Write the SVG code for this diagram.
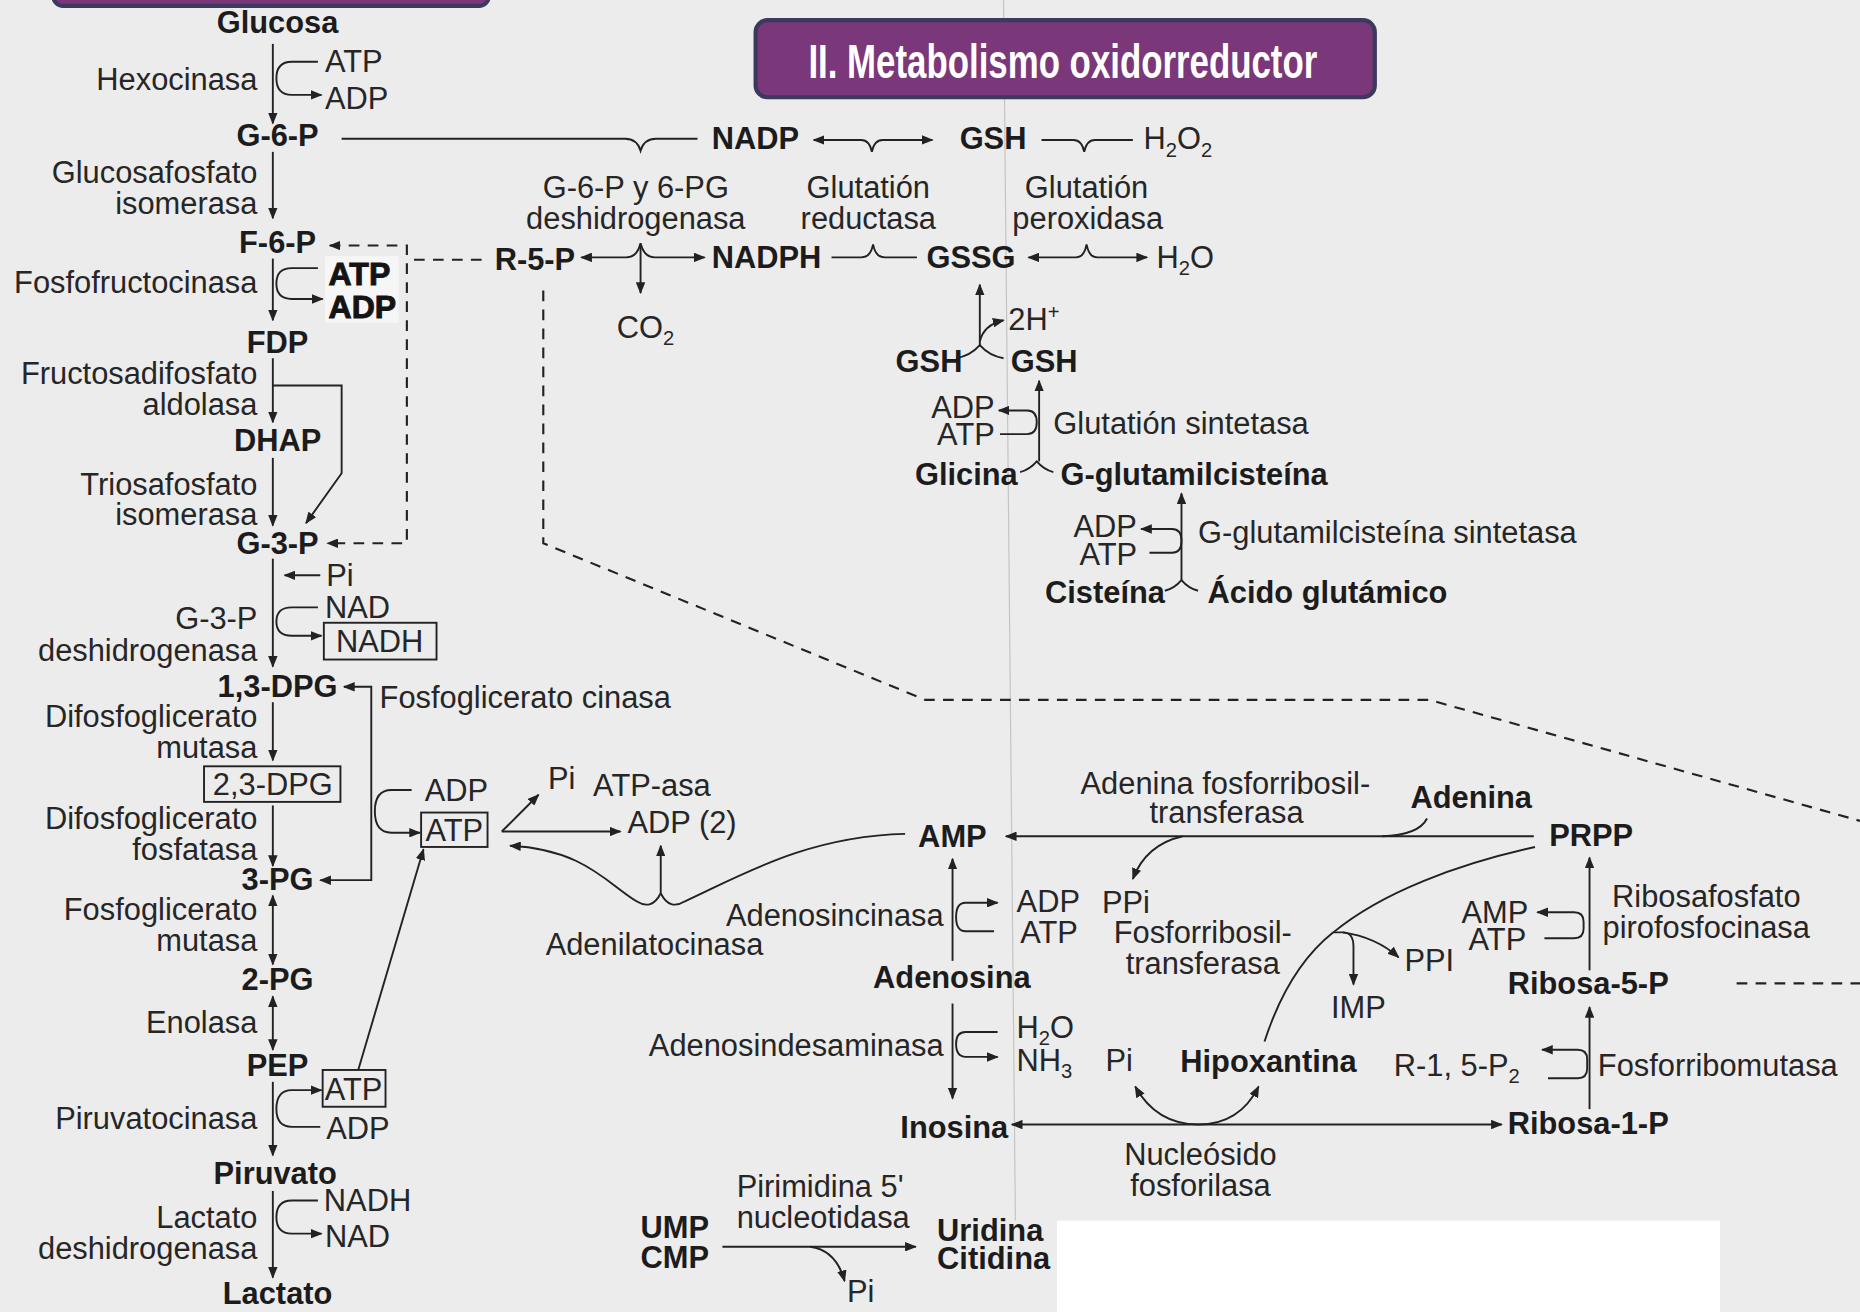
<svg xmlns="http://www.w3.org/2000/svg" width="1860" height="1312" viewBox="0 0 1860 1312">
<defs>
<style>
.r{font-family:'Liberation Sans',Arial,sans-serif;font-size:26px;fill:#262626}
.b{font-family:'Liberation Sans',Arial,sans-serif;font-size:26px;font-weight:bold;fill:#1c1c1c}
.h{font-family:'Liberation Sans',Arial,sans-serif;font-size:27px;font-weight:900;fill:#141414;stroke:#141414;stroke-width:0.8}
.e{text-anchor:end}
.m{text-anchor:middle}
.sub{font-size:17px}
.ln{fill:none;stroke:#222;stroke-width:1.6}
.ar{marker-end:url(#ah)}
.ab{marker-start:url(#ah);marker-end:url(#ah)}
.ds{fill:none;stroke:#222;stroke-width:1.8;stroke-dasharray:9 7}
.bx{fill:none;stroke:#222;stroke-width:1.6}
.ttl{font-family:'Liberation Sans Narrow','Liberation Sans',Arial,sans-serif;font-size:40px;font-weight:bold;fill:#ffffff}
.pb{fill:#7a3779;stroke:#3b3a5e;stroke-width:3.5}
</style>
<marker id="ah" viewBox="0 0 10 8" refX="9" refY="4" markerWidth="10" markerHeight="8" markerUnits="userSpaceOnUse" orient="auto-start-reverse">
<path d="M0,0 L10,4 L0,8 Z" fill="#222"/>
</marker>
</defs>
<rect width="1860" height="1312" fill="#ececec"/>
<g transform="scale(1.18622)">
<rect x="891" y="1029" width="559" height="80" fill="#ffffff"/>
<line x1="846" y1="0" x2="856" y2="1029" stroke="#c4c4c4" stroke-width="1"/>

<g id="top-bar"><rect class="pb" x="45" y="-20" width="367" height="25" rx="8"/></g>
<g id="title">
<rect class="pb" x="637" y="17" width="522" height="65" rx="10"/>
<text class="ttl m" x="896" y="66" textLength="429" lengthAdjust="spacingAndGlyphs">II. Metabolismo oxidorreductor</text>
</g>

<g id="connectors">
<!-- main glycolysis column -->
<path class="ln ar" d="M230,37 V104"/>
<path class="ln ar" d="M230,128 V184"/>
<path class="ln ar" d="M230,218 V270"/>
<path class="ln ar" d="M230,302 V356"/>
<path class="ln ar" d="M230,386 V443"/>
<path class="ln ar" d="M230,471 V562"/>
<path class="ln ar" d="M230,592 V641"/>
<path class="ln ar" d="M230,679 V730"/>
<path class="ln ab" d="M230,755 V813"/>
<path class="ln ab" d="M230,840 V885"/>
<path class="ln ar" d="M230,912 V974"/>
<path class="ln ar" d="M230,1004 V1077"/>
<path class="ln ar" d="M268,52 H246 Q233,52 233,66 Q233,80 246,80 H271"/>
<path class="ln ar" d="M268,226 H246 Q233,226 233,239 Q233,252 246,252 H272"/>
<path class="ln ar" d="M230,325 H288 V399 L258,441"/>
<path class="ln ar" d="M270,485 H240"/>
<path class="ln ar" d="M268,512 H246 Q233,512 233,524 Q233,536 246,536 H271"/>
<path class="ln ab" d="M290,579 H313 V742 H270"/>
<path class="ln ar" d="M347,666 H330 Q316,666 316,684 Q316,702 330,702 H354"/>
<path class="ln ar" d="M270,950 H246 Q233,950 233,935 Q233,919 246,919 H271"/>
<path class="ln ar" d="M302,902 L357,716"/>
<path class="ln ar" d="M268,1012 H246 Q233,1012 233,1026 Q233,1040 246,1040 H271"/>
<!-- dashed -->
<path class="ds ab" d="M278,207 H343 V458 H276"/>
<path class="ds" d="M349,219 H412"/>
<path class="ds" d="M458,245 V458 L780,590 H1205 L1568,692"/>
<path class="ds" d="M1464,829 H1568"/>
<!-- pentose phosphate / glutathione -->
<path class="ln" d="M288,117 H527 Q537,117 540,127 Q543,117 553,117 H588"/>
<path class="ln ab" d="M686,118 H726 Q733,118 735,128 Q737,118 744,118 H786"/>
<path class="ln" d="M878,118 H905 Q912,118 914,128 Q916,118 923,118 H955"/>
<path class="ln ab" d="M490,217 H528 Q537,217 540,205 Q543,217 552,217 H594"/>
<path class="ln ar" d="M540,206 V247"/>
<path class="ln" d="M701,217 H726 Q734,217 736,206 Q738,217 746,217 H773"/>
<path class="ln ab" d="M867,217 H907 Q914,217 916,206 Q918,217 925,217 H967"/>
<path class="ln ar" d="M826,292 V240"/>
<path class="ln ar" d="M826,288 Q829,274 846,270"/>
<path class="ln" d="M806,302 Q818,300 826,291 Q834,300 846,302"/>
<path class="ln ar" d="M876,389 V321"/>
<path class="ln ar" d="M843,366 H866 Q874,366 874,356 Q874,346 866,346 H842"/>
<path class="ln" d="M860,398 Q868,396 874,389 Q880,396 888,398"/>
<path class="ln ar" d="M996,489 V416"/>
<path class="ln ar" d="M969,466 H988 Q996,466 996,456 Q996,446 988,446 H962"/>
<path class="ln" d="M982,498 Q990,496 996,489 Q1002,496 1010,498"/>
<!-- ATP-asa / adenylate -->
<path class="ln ar" d="M423,701 L454,670"/>
<path class="ln ar" d="M423,701 H523"/>
<path class="ln ar" d="M557,753 C552,763 545,765 537,760 C512,745 492,716 430,713"/>
<path class="ln" d="M557,753 C562,763 569,765 577,760 C625,738 680,705 763,703"/>
<path class="ln ar" d="M557,753 V713"/>
<!-- purine salvage -->
<path class="ln ar" d="M1293,705 H848"/>
<path class="ln" d="M1203,690 Q1196,704 1165,705"/>
<path class="ln ar" d="M997,705 Q966,712 955,741"/>
<path class="ln ar" d="M803,810 V724"/>
<path class="ln ar" d="M838,785 H814 Q806,785 806,773 Q806,761 814,761 H841"/>
<path class="ln ar" d="M803,846 V926"/>
<path class="ln ar" d="M841,870 H814 Q806,870 806,880 Q806,891 814,891 H841"/>
<path class="ln ab" d="M853,948 H1266"/>
<path class="ln ar" d="M1010,948 Q975,948 957,916"/>
<path class="ln ar" d="M1010,948 Q1045,948 1061,916"/>
<path class="ln" d="M1066,878 C1080,835 1100,805 1124,786 C1165,752 1230,728 1294,714"/>
<path class="ln ar" d="M1124,786 H1132 Q1141,786 1141,798 V830"/>
<path class="ln ar" d="M1132,786 Q1160,790 1179,807"/>
<path class="ln ar" d="M1340,818 V723"/>
<path class="ln ar" d="M1302,791 H1327 Q1335,791 1335,783 V777 Q1335,769 1327,769 H1296"/>
<path class="ln ar" d="M1340,935 V849"/>
<path class="ln ar" d="M1305,909 H1330 Q1338,909 1338,901 V893 Q1338,885 1330,885 H1300"/>
<!-- pyrimidine -->
<path class="ln ar" d="M609,1051 H772"/>
<path class="ln ar" d="M683,1051 Q705,1054 712,1080"/>
</g>

<!-- glycolysis nodes -->
<g id="glucosa"><text class="b m" x="234" y="28">Glucosa</text></g>
<g id="hexocinasa"><text class="r e" x="217" y="76">Hexocinasa</text>
<text class="r" x="274" y="61">ATP</text><text class="r" x="274" y="92">ADP</text></g>
<g id="g6p"><text class="b m" x="234" y="123">G-6-P</text></g>
<g id="glucosafosfato-isomerasa"><text class="r e" x="217" y="154">Glucosafosfato</text><text class="r e" x="217" y="180">isomerasa</text></g>
<g id="f6p"><text class="b m" x="234" y="213">F-6-P</text></g>
<g id="fosfofructocinasa"><text class="r e" x="217" y="247">Fosfofructocinasa</text>
<rect x="274" y="216" width="62" height="56" fill="#f6f6f6"/>
<text class="h" x="277" y="240">ATP</text><text class="h" x="277" y="268">ADP</text></g>
<g id="fdp"><text class="b m" x="234" y="298">FDP</text></g>
<g id="aldolasa"><text class="r e" x="217" y="324">Fructosadifosfato</text><text class="r e" x="217" y="350">aldolasa</text></g>
<g id="dhap"><text class="b m" x="234" y="380">DHAP</text></g>
<g id="triosafosfato-isomerasa"><text class="r e" x="217" y="417">Triosafosfato</text><text class="r e" x="217" y="443">isomerasa</text></g>
<g id="g3p"><text class="b m" x="234" y="467">G-3-P</text></g>
<g id="g3p-deshidrogenasa"><text class="r" x="275" y="494">Pi</text><text class="r" x="274" y="521">NAD</text>
<rect class="bx" x="273" y="525" width="95" height="31"/><text class="r m" x="320" y="550">NADH</text>
<text class="r e" x="217" y="530">G-3-P</text><text class="r e" x="217" y="557">deshidrogenasa</text></g>
<g id="dpg13"><text class="b m" x="234" y="588">1,3-DPG</text></g>
<g id="fosfoglicerato-cinasa"><text class="r" x="320" y="597">Fosfoglicerato cinasa</text>
<text class="r" x="358" y="675">ADP</text>
<rect class="bx" x="355" y="685" width="56" height="29"/><text class="r m" x="383" y="709">ATP</text></g>
<g id="difosfoglicerato-mutasa"><text class="r e" x="217" y="613">Difosfoglicerato</text><text class="r e" x="217" y="639">mutasa</text></g>
<g id="dpg23"><rect class="bx" x="172" y="646" width="115" height="30"/><text class="r m" x="230" y="670">2,3-DPG</text></g>
<g id="difosfoglicerato-fosfatasa"><text class="r e" x="217" y="699">Difosfoglicerato</text><text class="r e" x="217" y="725">fosfatasa</text></g>
<g id="pg3"><text class="b m" x="234" y="750">3-PG</text></g>
<g id="fosfoglicerato-mutasa"><text class="r e" x="217" y="776">Fosfoglicerato</text><text class="r e" x="217" y="802">mutasa</text></g>
<g id="pg2"><text class="b m" x="234" y="835">2-PG</text></g>
<g id="enolasa"><text class="r e" x="217" y="871">Enolasa</text></g>
<g id="pep"><text class="b m" x="234" y="907">PEP</text></g>
<g id="piruvatocinasa"><text class="r e" x="217" y="952">Piruvatocinasa</text>
<rect class="bx" x="272" y="902" width="53" height="31"/><text class="r m" x="298" y="927">ATP</text>
<text class="r" x="275" y="960">ADP</text></g>
<g id="piruvato"><text class="b m" x="232" y="998">Piruvato</text></g>
<g id="lactato-deshidrogenasa"><text class="r e" x="217" y="1035">Lactato</text><text class="r e" x="217" y="1061">deshidrogenasa</text>
<text class="r" x="273" y="1021">NADH</text><text class="r" x="274" y="1051">NAD</text></g>
<g id="lactato"><text class="b m" x="234" y="1099">Lactato</text></g>

<!-- pentose phosphate & glutathione -->
<g id="nadp"><text class="b" x="600" y="126">NADP</text></g>
<g id="g6pdh"><text class="r m" x="536" y="167">G-6-P y 6-PG</text><text class="r m" x="536" y="193">deshidrogenasa</text></g>
<g id="r5p"><text class="b" x="417" y="228">R-5-P</text></g>
<g id="co2"><text class="r" x="520" y="285">CO<tspan class="sub" dy="6">2</tspan></text></g>
<g id="nadph"><text class="b" x="600" y="226">NADPH</text></g>
<g id="glutation-reductasa"><text class="r m" x="732" y="167">Glutatión</text><text class="r m" x="732" y="193">reductasa</text></g>
<g id="gsh"><text class="b" x="809" y="126">GSH</text></g>
<g id="gssg"><text class="b" x="781" y="226">GSSG</text></g>
<g id="glutation-peroxidasa"><text class="r m" x="916" y="167">Glutatión</text><text class="r m" x="917" y="193">peroxidasa</text></g>
<g id="h2o2"><text class="r" x="964" y="126">H<tspan class="sub" dy="6">2</tspan><tspan dy="-6">O</tspan><tspan class="sub" dy="6">2</tspan></text></g>
<g id="h2o"><text class="r" x="975" y="226">H<tspan class="sub" dy="6">2</tspan><tspan dy="-6">O</tspan></text></g>
<g id="h-plus"><text class="r" x="850" y="278">2H<tspan class="sub" dy="-9">+</tspan></text></g>
<g id="gsh-pair"><text class="b" x="755" y="314">GSH</text><text class="b" x="852" y="314">GSH</text></g>
<g id="glutation-sintetasa"><text class="r" x="888" y="366">Glutatión sintetasa</text>
<text class="r" x="785" y="352">ADP</text><text class="r" x="790" y="375">ATP</text></g>
<g id="glicina"><text class="b e" x="858" y="409">Glicina</text></g>
<g id="g-glutamilcisteina"><text class="b" x="894" y="409">G-glutamilcisteína</text></g>
<g id="g-glutamilcisteina-sintetasa"><text class="r" x="1010" y="458">G-glutamilcisteína sintetasa</text>
<text class="r" x="905" y="453">ADP</text><text class="r" x="910" y="476">ATP</text></g>
<g id="cisteina"><text class="b" x="881" y="508">Cisteína</text></g>
<g id="acido-glutamico"><text class="b" x="1018" y="508">Ácido glutámico</text></g>

<!-- nucleotides -->
<g id="atp-asa"><text class="r" x="462" y="665">Pi</text><text class="r" x="500" y="671">ATP-asa</text><text class="r" x="529" y="702">ADP (2)</text></g>
<g id="adenilatocinasa"><text class="r" x="460" y="805">Adenilatocinasa</text></g>
<g id="amp"><text class="b" x="774" y="714">AMP</text></g>
<g id="adenosincinasa"><text class="r" x="612" y="781">Adenosincinasa</text>
<text class="r" x="857" y="769">ADP</text><text class="r" x="860" y="795">ATP</text></g>
<g id="adenosina"><text class="b" x="736" y="833">Adenosina</text></g>
<g id="adenosindesaminasa"><text class="r" x="547" y="890">Adenosindesaminasa</text>
<text class="r" x="857" y="875">H<tspan class="sub" dy="6">2</tspan><tspan dy="-6">O</tspan></text>
<text class="r" x="857" y="903">NH<tspan class="sub" dy="6">3</tspan></text></g>
<g id="inosina"><text class="b" x="759" y="959">Inosina</text></g>
<g id="pi-nucleosido"><text class="r" x="932" y="903">Pi</text></g>
<g id="hipoxantina"><text class="b" x="995" y="904">Hipoxantina</text></g>
<g id="nucleosido-fosforilasa"><text class="r m" x="1012" y="982">Nucleósido</text><text class="r m" x="1012" y="1008">fosforilasa</text></g>
<g id="adenina-fosforribosiltransferasa"><text class="r m" x="1033" y="669">Adenina fosforribosil-</text><text class="r m" x="1034" y="694">transferasa</text></g>
<g id="adenina"><text class="b" x="1189" y="681">Adenina</text></g>
<g id="prpp"><text class="b" x="1306" y="713">PRPP</text></g>
<g id="ppi-adenina"><text class="r" x="929" y="770">PPi</text></g>
<g id="fosforribosiltransferasa"><text class="r m" x="1014" y="795">Fosforribosil-</text><text class="r m" x="1014" y="821">transferasa</text></g>
<g id="imp"><text class="r" x="1122" y="858">IMP</text></g>
<g id="ppi-hipoxantina"><text class="r" x="1184" y="819">PPI</text></g>
<g id="ribosafosfato-pirofosfocinasa"><text class="r" x="1359" y="765">Ribosafosfato</text><text class="r" x="1351" y="791">pirofosfocinasa</text>
<text class="r" x="1232" y="778">AMP</text><text class="r" x="1238" y="801">ATP</text></g>
<g id="ribosa-5-p"><text class="b" x="1271" y="838">Ribosa-5-P</text></g>
<g id="fosforribomutasa"><text class="r" x="1175" y="907">R-1, 5-P<tspan class="sub" dy="6">2</tspan></text>
<text class="r" x="1347" y="907">Fosforribomutasa</text></g>
<g id="ribosa-1-p"><text class="b" x="1271" y="956">Ribosa-1-P</text></g>
<g id="ump-cmp"><text class="b" x="540" y="1044">UMP</text><text class="b" x="540" y="1069">CMP</text></g>
<g id="pirimidina-nucleotidasa"><text class="r" x="621" y="1009">Pirimidina 5'</text><text class="r" x="621" y="1035">nucleotidasa</text></g>
<g id="pi-pirimidina"><text class="r" x="714" y="1098">Pi</text></g>
<g id="uridina-citidina"><text class="b" x="790" y="1046">Uridina</text><text class="b" x="790" y="1070">Citidina</text></g>
</g>
</svg>
